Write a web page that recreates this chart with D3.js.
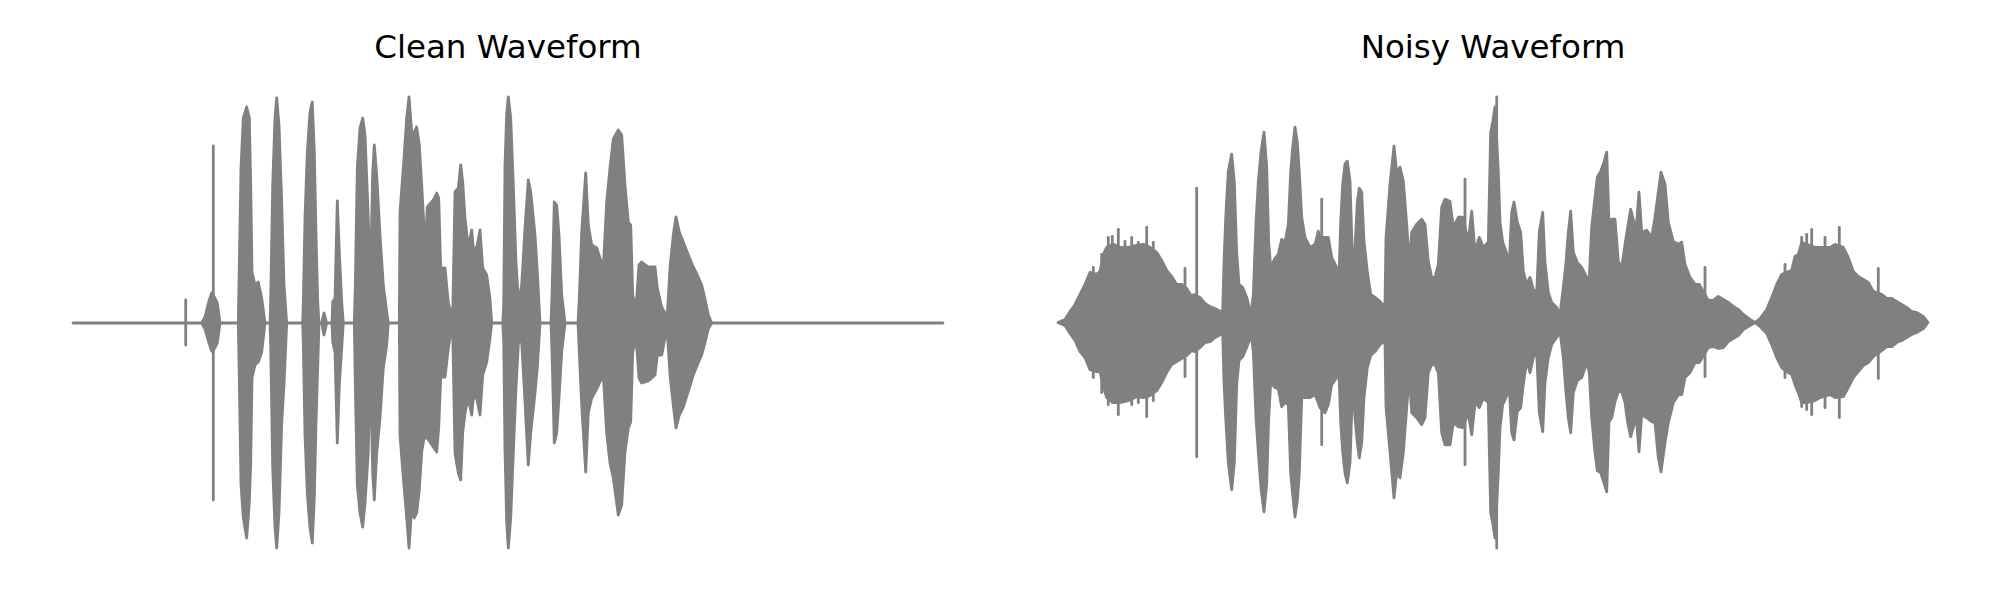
<!DOCTYPE html>
<html><head><meta charset="utf-8">
<script src="https://cdn.jsdelivr.net/npm/d3@7"></script>
<style>body{margin:0;background:#fff}</style>
</head><body>
<svg id="chart" width="2000" height="600"></svg>
<script>
// ---- data (time in analysis frames, amplitude in sample units /100) ----
const titles = ["Clean Waveform", "Noisy Waveform"];
const duration = 870;

// envelope: [frame, upper, lower]
const cleanEnvelope = [
[0,0,0],
[128.7,0,0],[132,6,-6],[136,22,-20],[138.7,30,-28],[142,25,-25],[144.3,20,-20],[147,0,0],
[165.3,0,0],[166.3,58,-57],[168,155,-162],[170.3,205,-195],[173.7,216,-215],[176.3,205,-180],[177.7,138,-140],[179,51,-55],[182,38,-42],[185.3,41,-39],[188.7,25,-29],[192,0,0],
[197,0,0],[197.7,24,-24],[199.7,138,-145],[202,205,-205],[203.7,225,-225],[206,198,-190],[208.7,121,-100],[211,38,-62],[213.7,0,0],
[229.7,0,0],[230.3,21,-21],[232,105,-112],[234.3,171,-170],[237,211,-205],[239.3,221,-220],[241.3,171,-175],[243,88,-100],[244.7,21,-45],[246,0,0],
[248.7,0,0],[251,10,-12],[253.7,0,0],
[259,0,0],[259.7,21,-19],[262,25,-29],[264.3,122,-120],[266.3,71,-62],[268.7,21,-25],[270.3,0,0],
[281.3,0,0],[282.3,38,-62],[284.3,155,-162],[287,195,-190],[289.7,205,-204],[292,188,-180],[295.3,105,-129],[297.3,35,-35],[299.7,150,-150],[301.3,178,-177],[303.7,148,-130],[307,88,-95],[310.3,38,-45],[313.7,11,-22],[315.3,0,0],
[326.3,0,0],[327,111,-112],[330.3,155,-155],[333.7,205,-195],[336,226,-225],[338.7,191,-185],[341.3,191,-195],[343.7,196,-190],[346.3,178,-167],[348.7,138,-129],[351,95,-115],[353,91,-115],[354.3,116,-115],[360.3,123,-124],[363.7,130,-129],[365.7,125,-105],[367.7,55,-54],[372,55,-54],[375.3,20,-25],[378.7,8,-6],[379.7,7,-7],
[382,131,-130],[385.3,135,-150],[387.7,158,-157],[389.7,141,-110],[392,105,-90],[395.3,75,-75],[398.7,93,-92],[400.3,75,-75],[403.7,75,-75],[407,93,-92],[409.7,55,-52],[413.7,48,-39],[417,24,-15],[418.7,0,0],
[429.7,0,0],[430.7,18,-18],[432,158,-127],[433.7,210,-200],[435.3,226,-225],[437.7,205,-195],[440.3,138,-130],[443,60,-65],[445.7,20,-15],[448.7,38,-20],[452,95,-79],[455.3,143,-142],[457.7,131,-110],[462,88,-70],[464.3,51,-45],[467,0,0],
[478,0,0],[479,28,-29],[481.3,121,-120],[483.7,118,-110],[486,88,-75],[488.7,28,-29],[492,0,0],
[505,0,0],[506.3,24,-29],[508.7,91,-82],[512.7,150,-149],[515.3,98,-90],[518.7,78,-75],[523.7,75,-66],[530.3,55,-52],[533.7,121,-110],[537,155,-140],[540.3,184,-155],[545.3,193,-192],[548.7,188,-182],[552,138,-129],[555.3,101,-105],[557.7,98,-99],[559.7,28,-29],[563,15,-15],
[566,58,-55],[568.7,61,-60],[575.3,56,-58],[582,56,-52],[584.3,35,-32],[588.7,16,-32],[592,10,-15],
[594.3,8,-8],[597,55,-52],[600.3,88,-82],[603,106,-105],[606.3,91,-92],[610.3,81,-84],[615.3,68,-68],[620.3,56,-52],[624.3,48,-42],[628.7,38,-32],[632,24,-20],[635.3,8,-6],[638.7,0,0],
[870,0,0]
];
// isolated single-sample spikes: [frame, upper, lower]
const cleanSpikes = [[112.7,23,-22],[140.3,177,-177]];

const noisyEnvelope = [
[0,0,0],[7,3,-3],[12,11,-11],[17,18,-18],[22,28,-29],[27,38,-35],[32,50,-47],[38.7,48,-49],[42,51,-49],[45.3,68,-64],[48.7,75,-75],[55.3,78,-80],[62,75,-80],[70.3,75,-78],[78.7,77,-74],[85.3,78,-75],[92,75,-73],[98.7,70,-68],[103.7,62,-60],[108.7,52,-50],[113.7,46,-42],[118.7,38,-39],[123.7,38,-36],[128.7,34,-33],[133.7,26,-28],[136,28,-29],[142,25,-25],[147,19,-20],[152,16,-19],[157,14,-15],[162.7,11,-12],[164.7,12,-12],
[166,60,-60],[167.7,104,-95],[170.3,151,-140],[173.7,168,-167],[176.3,140,-140],[178.7,70,-62],[181,38,-38],[184.7,35,-34],[188.7,25,-25],[192,12,-16],[193.7,14,-16],[195.3,28,-29],[198,100,-95],[200.3,140,-129],[203,170,-165],[206,190,-189],[208.7,155,-160],[210.7,80,-95],[212.7,55,-60],
[217,64,-65],[220.3,68,-66],[223.7,83,-84],[227,80,-80],[230.3,98,-82],[232.7,150,-150],[234.7,175,-172],[237,195,-194],[239.3,180,-178],[241.3,150,-150],[243.7,105,-75],[247,85,-75],[252,75,-75],[257,78,-72],[260.3,91,-80],[262,85,-85],[267,85,-90],[270.3,85,-82],[273.7,65,-62],[278.7,55,-55],[281,45,-50],[282.7,100,-100],[284.7,138,-129],[287,158,-150],[289.3,161,-160],[292,141,-140],[294.7,55,-60],[297,75,-95],[299.3,120,-120],[301.3,134,-135],[303.7,130,-120],[306,81,-75],[309.3,51,-45],[312.7,28,-33],[317,25,-29],[322,21,-22],[326,16,-19],
[327,20,-20],[328,85,-84],[332,138,-129],[336,176,-175],[338.7,150,-150],[342,155,-155],[345.3,141,-130],[348.7,98,-85],[351.3,58,-52],[353.7,90,-90],[358.7,98,-95],[363.7,103,-102],[367,98,-95],[370.3,61,-50],[373.7,45,-42],[377,45,-42],[380.3,58,-50],[383.7,115,-110],[387,123,-122],[392,121,-122],[395.3,95,-100],[400.3,105,-104],[404.7,105,-105],[410.3,81,-90],[413.7,111,-112],[417,71,-80],[421.3,85,-85],[425.3,75,-75],[430.3,80,-80],[432.7,190,-190],[434.7,200,-200],[437,215,-215],[440.3,150,-150],[442,100,-105],[444.7,80,-82],[448,71,-75],[451.3,60,-65],[453.7,110,-110],[456,120,-117],[459.3,100,-89],[462.7,90,-85],[465.3,51,-62],[468.7,38,-38],[472,45,-50],[475.3,33,-35],[478.7,30,-30],[481.3,90,-90],[484.7,110,-109],[487,60,-60],[490.3,30,-35],[493.7,20,-22],[498.7,15,-15],[502,8,-9],[505.3,35,-35],[508,60,-70],[510.3,90,-95],[512.7,111,-110],[515.3,70,-70],[519.3,60,-58],[523.7,55,-55],[528.7,45,-40],[531.3,45,-50],[533.7,95,-95],[537,125,-130],[539.3,145,-148],[542.7,151,-150],[546,160,-160],[548.7,170,-169],[551,100,-99],[553.7,103,-95],[557,103,-79],[560.3,61,-69],[563.7,55,-69],[567,78,-80],[569.7,95,-100],[572.7,113,-114],[576,100,-102],[578.7,100,-100],[581,130,-129],[583.7,90,-92],[588.7,92,-95],[593.7,85,-99],[597,105,-100],[600.3,130,-135],[603,150,-149],[607,138,-120],[610.3,100,-100],[615.3,81,-80],[620.3,78,-72],[623.7,80,-72],[627,58,-55],[632,45,-50],[637,38,-40],[641.3,38,-40],[650.3,22,-25],[655.3,22,-24],[660.3,26,-26],[665.3,23,-25],[670.3,20,-19],[675.3,16,-16],[680.3,13,-13],[685.3,8,-7],[692,3,-3],[697,0,0],[702,4,-4],[708.7,13,-11],[713.7,25,-22],[718.7,38,-35],[723.7,48,-45],[728.7,50,-49],[733.7,52,-52],[737,66,-62],[740.3,68,-70],[743.7,80,-80],[748.7,78,-80],[757,75,-78],[762,75,-75],[772,75,-72],[777,78,-75],[785.3,75,-74],[790.3,65,-65],[795.3,51,-55],[800.3,46,-49],[805.3,43,-43],[810.3,40,-40],[815.3,31,-34],[823.7,28,-28],[828.7,24,-24],[833.7,24,-24],[838.7,21,-20],[843.7,18,-18],[848.7,15,-15],[853.7,11,-12],[858.7,10,-10],[865.3,6,-6],[870,0,0]
];
const noisySpikes = [
[35.3,55,-55],[43.7,68,-70],[50.3,85,-82],[54.3,86,-80],[60.3,93,-92],[67,81,-77],[73.7,85,-82],[80.3,80,-80],[88.7,95,-94],[95.3,80,-78],[127,54,-54],[138.7,134,-134],
[263.7,123,-122],[407,143,-142],[438.7,225,-225],[647,55,-54],
[727,58,-55],[743.7,85,-84],[748.7,88,-87],[753.7,93,-92],[767,85,-85],[781.3,95,-95],[820.3,54,-56]
];

// ---- layout ----
const color = "#808080";
const lw = 2.8;
const panels = [
  {title: titles[0], env: cleanEnvelope, spikes: cleanSpikes, x0: 29.5, x1: 986.5},
  {title: titles[1], env: noisyEnvelope, spikes: noisySpikes, x0: 1014.5, x1: 1971.5}
];
const axTop = 74.45, axBottom = 570.55;

const svg = d3.select("#chart");

// shared y extent (matplotlib-like 5% margins)
const allVals = [];
panels.forEach(p => { p.env.forEach(d => allVals.push(d[1], d[2])); p.spikes.forEach(d => allVals.push(d[1], d[2])); });
const yMin = d3.min(allVals), yMax = d3.max(allVals);
const yPad = 0.05 * (yMax - yMin);

panels.forEach(p => {
  const vals = [];
  p.env.forEach(d => vals.push(d[1], d[2]));
  p.spikes.forEach(d => vals.push(d[1], d[2]));
  const lo = d3.min(vals), hi = d3.max(vals), pad = 0.05 * (hi - lo);
  const x = d3.scaleLinear().domain([-0.05 * duration, duration * 1.05]).range([p.x0, p.x1]);
  const y = d3.scaleLinear().domain([lo - pad, hi + pad]).range([axBottom, axTop]);

  const g = svg.append("g");
  const area = d3.area().x(d => x(d[0])).y0(d => y(d[2])).y1(d => y(d[1]));
  g.append("path").datum(p.env).attr("d", area)
    .attr("fill", color).attr("stroke", color).attr("stroke-width", lw)
    .attr("stroke-linejoin", "round").attr("stroke-linecap", "round");

  g.selectAll("line.spike").data(p.spikes).join("line").attr("class", "spike")
    .attr("x1", d => x(d[0])).attr("x2", d => x(d[0]))
    .attr("y1", d => y(d[1])).attr("y2", d => y(d[2]))
    .attr("stroke", color).attr("stroke-width", lw).attr("stroke-linecap", "round");

  svg.append("text").attr("x", (p.x0 + p.x1) / 2).attr("y", 57.5)
    .attr("text-anchor", "middle")
    .style("font-family", "'DejaVu Sans', sans-serif").style("font-size", "32.5px")
    .attr("fill", "#000").text(p.title);
});
</script>
</body></html>
